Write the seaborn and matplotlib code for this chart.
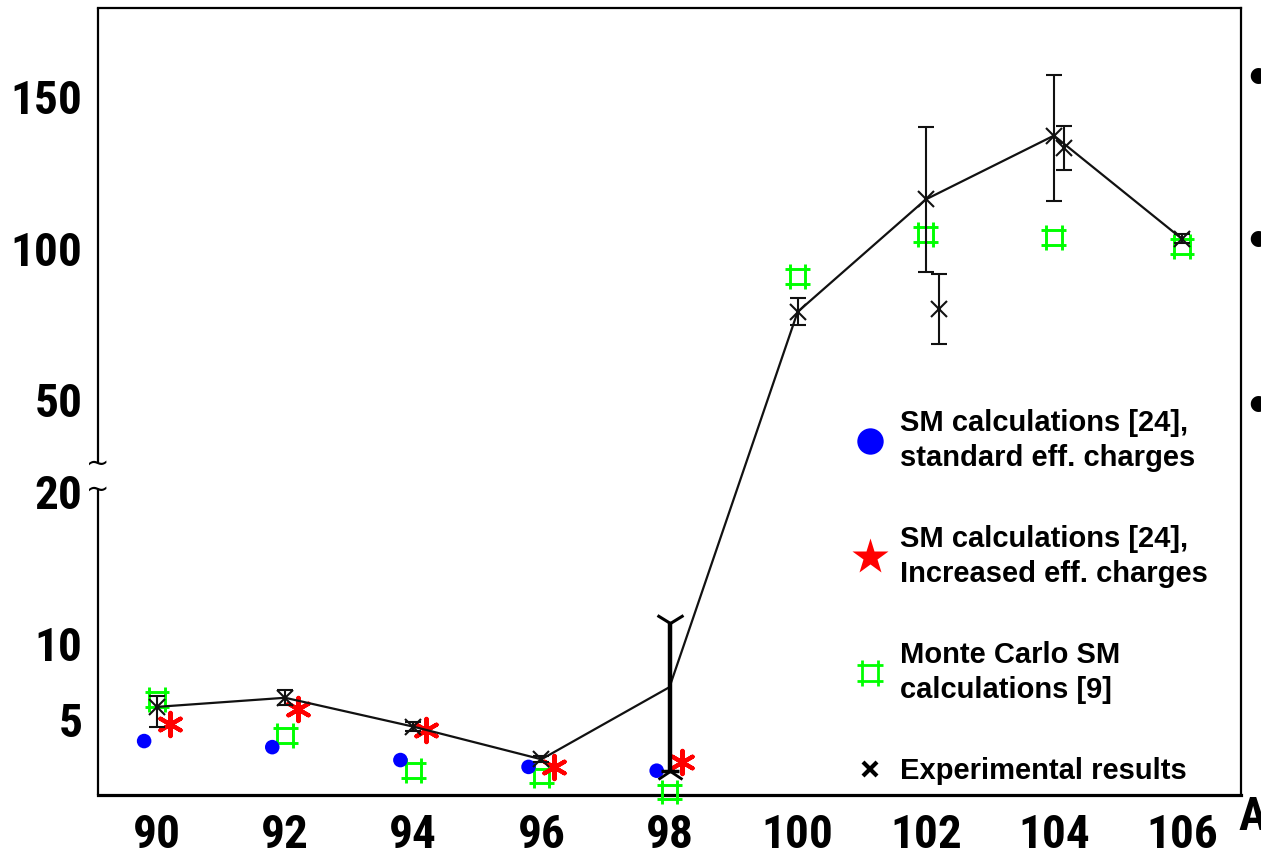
import numpy as np
import pandas as pd
import matplotlib
matplotlib.use("Agg")
import matplotlib.pyplot as plt
import seaborn as sns
from matplotlib.path import Path
from matplotlib.lines import Line2D
from matplotlib.font_manager import FontProperties
from matplotlib import font_manager as fm

# ---------------- data ----------------
mass_numbers = [90, 92, 94, 96, 98, 100, 102, 104, 106]
xtick_labels = ["90", "92", "94", "96", "98", "100", "102", "104", "106"]
ytick_values = [5, 10, 20, 50, 100, 150]
ytick_labels = ["5", "10", "20", "50", "100", "150"]

sm_standard_x = [89.8, 91.8, 93.8, 95.8, 97.8]
sm_standard_y = [3.55, 3.15, 2.3, 1.85, 1.6]

sm_increased_x = [90.2, 92.2, 94.2, 96.2, 98.2]
sm_increased_y = [4.65, 5.65, 4.3, 1.85, 2.15]

mc_x = [90, 92, 94, 96, 98, 100, 102, 104, 106]
mc_y = [6.3, 3.9, 1.6, 1.25, 0.2, 90.5, 104.5, 103.5, 100.5]

exp_x = [90, 92, 94, 96, 98, 100, 102, 104, 106]
exp_y = [5.8, 6.4, 4.5, 2.35, 7.1, 79.0, 116.0, 137.0, 103.0]
exp_err_lo = [1.3, 0.5, 0.3, 0.2, 5.5, 4.2, 24.0, 21.5, 1.5]
exp_err_hi = [0.7, 0.5, 0.3, 0.2, 4.2, 4.6, 24.0, 20.0, 1.5]

exp2_x = [102.2, 104.15]
exp2_y = [80.0, 133.0]
exp2_err = [11.5, 7.2]

legend_labels = [
    "SM calculations [24],\nstandard eff. charges",
    "SM calculations [24],\nIncreased eff. charges",
    "Monte Carlo SM\ncalculations [9]",
    "Experimental results",
]

# ---------------- style ----------------
sns.set_style("white")
plt.rcParams["font.family"] = ["Liberation Sans", "DejaVu Sans"]
for key in ["text.color", "axes.labelcolor", "xtick.color", "ytick.color"]:
    plt.rcParams[key] = "black"

available = {f.name for f in fm.fontManager.ttflist}
narrow_sizes = {"Liberation Sans Narrow": 36, "Arial Narrow": 36,
                "Nimbus Sans Narrow": 36, "Roboto Condensed": 34,
                "Open Sans Condensed": 34}
tick_family, tick_size = "Liberation Sans", 31
for name, size in narrow_sizes.items():
    if name in available:
        tick_family, tick_size = name, size
        break
tick_font = FontProperties(family=[tick_family, "Liberation Sans"], weight="bold", size=tick_size)
legend_font = FontProperties(family=["Liberation Sans", "DejaVu Sans"], weight="bold", size=21)

BLUE = "#0000ff"
RED = "#ff0000"
GREEN = "#00ff00"

# broken y axis: 0-20 stretched, above 20 compressed 5x
def fwd(y):
    y = np.asarray(y, dtype=float)
    return np.where(y <= 20, y, 20 + (y - 20) / 5.0)

def inv(t):
    t = np.asarray(t, dtype=float)
    return np.where(t <= 20, t, 20 + (t - 20) * 5.0)

hash_marker = Path(
    [(-0.62, -1), (-0.62, 1), (0.62, -1), (0.62, 1),
     (-1, -0.6), (1, -0.6), (-1, 0.6), (1, 0.6)],
    [Path.MOVETO, Path.LINETO] * 4,
)

W, H = 1261, 856
fig = plt.figure(figsize=(W / 100, H / 100), dpi=100)
ax = fig.add_axes([98 / W, 1 - 795 / H, (1241 - 98) / W, (795 - 8) / H])
ax.set_yscale("function", functions=(fwd, inv))
ax.set_xlim(89.08, 106.92)
ax.set_ylim(0, 179)

df_std = pd.DataFrame({"A": sm_standard_x, "B": sm_standard_y})
df_inc = pd.DataFrame({"A": sm_increased_x, "B": sm_increased_y})
df_mc = pd.DataFrame({"A": mc_x, "B": mc_y})
df_exp = pd.DataFrame({"A": exp_x, "B": exp_y, "lo": exp_err_lo, "hi": exp_err_hi})

# model points
sns.scatterplot(data=df_mc, x="A", y="B", marker=hash_marker, s=320,
                facecolor="none", edgecolor=GREEN, linewidth=2.1, ax=ax,
                legend=False, zorder=3, clip_on=False)
sns.scatterplot(data=df_std, x="A", y="B", marker="o", s=110, color=BLUE,
                edgecolor="none", ax=ax, legend=False, zorder=4)
sns.scatterplot(data=df_inc, x="A", y="B", marker=(6, 2, 0), s=280, color=RED,
                linewidth=3.0, ax=ax, legend=False, zorder=4)

# experimental line
sns.lineplot(data=df_exp, x="A", y="B", color="#111111", lw=1.6, sort=False,
             estimator=None, ax=ax, zorder=5)

normal = df_exp[df_exp["A"] != 98]
ax.errorbar(normal["A"], normal["B"], yerr=[normal["lo"], normal["hi"]],
            fmt="x", color="#111111", ms=11, mew=1.5, elinewidth=1.5,
            capsize=5.5, capthick=1.8, zorder=6)
ax.errorbar(exp2_x, exp2_y, yerr=exp2_err, fmt="x", color="#111111", ms=11,
            mew=1.5, elinewidth=1.5, capsize=5.5, capthick=1.8, zorder=6)

special = df_exp[df_exp["A"] == 98]
ax.errorbar(special["A"], special["B"], yerr=[special["lo"], special["hi"]],
            fmt="none", color="black", elinewidth=3.2, capsize=0, zorder=6)
top_pts = special["B"] + special["hi"]
bot_pts = special["B"] - special["lo"]
ax.plot(special["A"], top_pts, marker="1", ms=24, mew=2.2, color="black", ls="", zorder=6)
ax.plot(special["A"], bot_pts, marker="_", ms=13, mew=2.5, color="black", ls="", zorder=6)
ax.plot(special["A"], bot_pts, marker="2", ms=22, mew=2.0, color="black", ls="", zorder=6)

# ticks
ax.set_xticks(mass_numbers)
ax.set_xticklabels(xtick_labels, fontproperties=tick_font)
ax.set_yticks(ytick_values)
ax.set_yticklabels(ytick_labels, fontproperties=tick_font)
ax.minorticks_off()
ax.tick_params(axis="x", direction="in", length=6, width=0.8, color="#555555", pad=13)
ax.tick_params(axis="y", direction="inout", length=17, width=1.6, color="black", pad=2.5)
for lbl in ax.get_xticklabels() + ax.get_yticklabels():
    lbl.set_color("black")
ax.set_xlabel("")
ax.set_ylabel("")

for side in ["top", "right"]:
    ax.spines[side].set_linewidth(1.6)
    ax.spines[side].set_color("black")
ax.spines["bottom"].set_linewidth(2.3)
ax.spines["bottom"].set_color("black")
ax.spines["left"].set_visible(False)

# broken left spine
ytr = ax.get_yaxis_transform()
ax.plot([0, 0], [0, 20.4], transform=ytr, color="black", lw=1.6, clip_on=False, zorder=7)
ax.plot([0, 0], [29.5, 179], transform=ytr, color="black", lw=1.6, clip_on=False, zorder=7)
ax.text(0, 29.0, "~", transform=ytr, ha="center", va="center", fontsize=20,
        family="DejaVu Sans", clip_on=False)
ax.text(0, 20.4, "~", transform=ytr, ha="center", va="center", fontsize=20,
        family="DejaVu Sans", clip_on=False)

# legend
handles = [
    Line2D([], [], ls="", marker="o", color=BLUE, ms=19, mec="none"),
    Line2D([], [], ls="", marker="*", color=RED, ms=27, mec="none"),
    Line2D([], [], ls="", marker=hash_marker, mfc="none", mec=GREEN, ms=19, mew=2.0),
    Line2D([], [], ls="", marker="x", color="black", ms=10, mew=3),
]
leg = ax.legend(handles, legend_labels, loc="upper left",
                bbox_to_anchor=(855 / W, 1 - 409 / H), bbox_transform=fig.transFigure,
                frameon=False, prop=legend_font, handlelength=1.0, handletextpad=0.55,
                labelspacing=1.83, borderpad=0, borderaxespad=0)
for t in leg.get_texts():
    t.set_linespacing(1.3)
    t.set_color("black")

# cropped slide remnants
fig.text(1238 / W, 1 - 830 / H, "A", fontproperties=tick_font, ha="left", va="baseline")
for yb in [80, 243, 408]:
    fig.text(1248 / W, 1 - yb / H, "\u2022", fontsize=40, weight="bold",
             ha="left", va="center", family="Liberation Sans", color="black")

fig.savefig("out.png", dpi=100)
